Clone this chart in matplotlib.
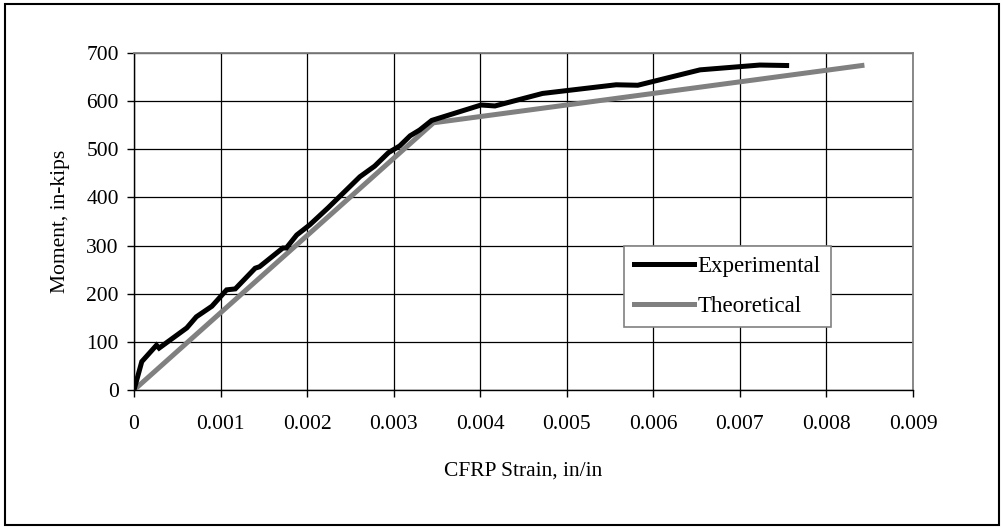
import matplotlib
matplotlib.use("Agg")
from matplotlib import pyplot as plt
from matplotlib.patches import Rectangle

# strain (in/in) vs moment (in-kips)
exp_strain = [0, 0.00009, 0.00026, 0.00029, 0.00061, 0.00072, 0.00090, 0.00107,
              0.00117, 0.00140, 0.00145, 0.00172, 0.00176, 0.00188, 0.00203,
              0.00224, 0.00261, 0.00278, 0.00294, 0.00307, 0.00319, 0.00330,
              0.00344, 0.00401, 0.00417, 0.00472, 0.00557, 0.00582, 0.00654,
              0.00723, 0.00754]
exp_moment = [0, 59, 93, 87, 129, 152, 174, 208, 210, 253, 256, 295, 295, 322,
              343, 378, 443, 465, 493, 507, 528, 540, 560, 592, 590, 616, 634,
              633, 665, 675, 674]

theo_strain = [0, 0.00346, 0.00841]
theo_moment = [0, 555, 674]

xticks = [0, 0.001, 0.002, 0.003, 0.004, 0.005, 0.006, 0.007, 0.008, 0.009]
xlabels = ["0", "0.001", "0.002", "0.003", "0.004", "0.005", "0.006", "0.007", "0.008", "0.009"]
yticks = [0, 100, 200, 300, 400, 500, 600, 700]

plt.rcParams['font.family'] = ['Liberation Serif', 'DejaVu Serif']
fs = 15.5

W, H = 1003, 527
fig = plt.figure(figsize=(W / 100, H / 100), dpi=100)
ax = fig.add_axes([134 / W, 1 - 390 / H, (913 - 134) / W, (390 - 53) / H])

# outer frame around whole chart
fig.patches.append(Rectangle((5 / W, 2 / H), (999 - 5) / W, (523 - 2) / H,
                             transform=fig.transFigure, fill=False,
                             edgecolor="#000000", linewidth=1.5))

ax.plot(exp_strain, exp_moment, color="#000000", linewidth=3.6,
        solid_joinstyle="miter", label="Experimental", zorder=4)
ax.plot(theo_strain, theo_moment, color="#808080", linewidth=3.6,
        label="Theoretical", zorder=3)

ax.set_xlim(0, 0.009)
ax.set_ylim(0, 700)
ax.set_xticks(xticks)
ax.set_xticklabels(xlabels)
ax.set_yticks(yticks)
ax.grid(True, color="#000000", linewidth=0.9)
ax.set_axisbelow(True)
ax.tick_params(direction="out", length=5, width=1, pad=13, labelsize=fs)
ax.tick_params(axis="y", pad=6)
for s in ["top", "right"]:
    ax.spines[s].set_color("#808080")
    ax.spines[s].set_linewidth(1.3)
for s in ["left", "bottom"]:
    ax.spines[s].set_color("#000000")
    ax.spines[s].set_linewidth(1.0)

ax.set_xlabel("CFRP Strain, in/in", fontsize=fs, labelpad=20)
ax.set_ylabel("Moment, in-kips", fontsize=fs, labelpad=12)

leg = ax.legend(loc="upper left", bbox_to_anchor=((624 - 134) / (913 - 134), (390 - 246) / (390 - 53)),
                borderaxespad=0, frameon=True, fancybox=False, framealpha=1,
                edgecolor="#808080", handlelength=2.6, handletextpad=0.15,
                labelspacing=0.8, borderpad=0.45, fontsize=16.5)
leg.get_frame().set_linewidth(1.2)

fig.savefig("out.png", dpi=100)
